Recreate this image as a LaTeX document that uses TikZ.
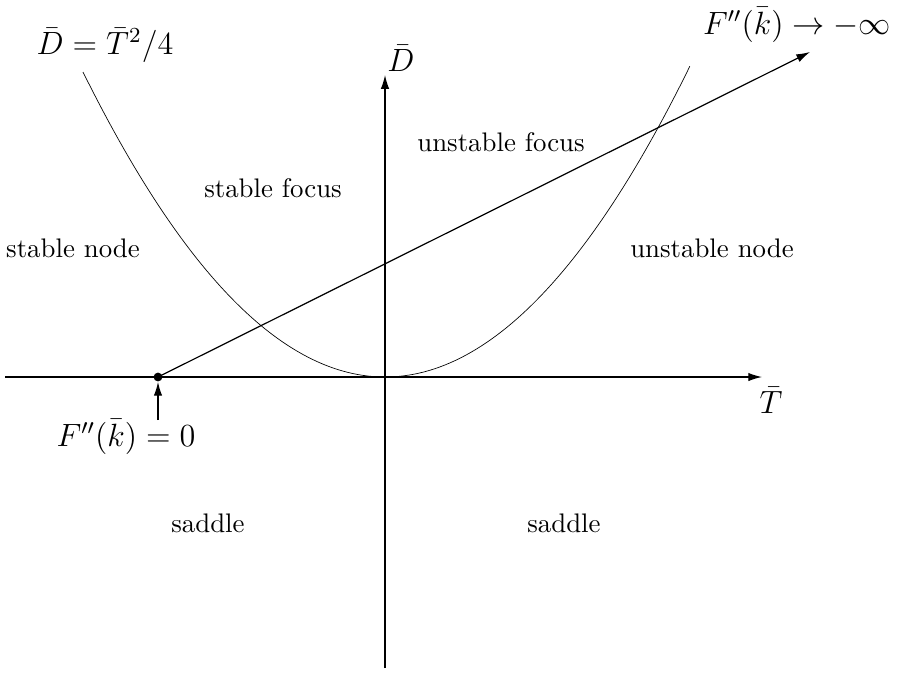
\documentclass[tikz,border=0pt]{standalone}
\usepackage{amsmath, amssymb}
\usetikzlibrary{arrows.meta, positioning, calc}

\begin{document}
\begin{tikzpicture}[x=0.01309cm, y=-0.01309cm,
        region/.style={font=\normalsize},
        etiqueta/.style={font=\large},
        eje/.style={-{Latex[length=1.8mm, width=1.1mm]}, line width=0.45pt}]
        \useasboundingbox (0,0) rectangle (897,678);
        % ejes
        \coordinate (izq) at (5,377);
        \coordinate (der) at (762,377);
        \coordinate (abajo) at (385,668);
        \coordinate (arriba) at (385,75);
        \draw[eje] (izq) -- (der);
        \draw[eje] (abajo) -- (arriba);
        \node[etiqueta] (ejeT) at (771,400) {$\bar{T}$};
        \node[etiqueta] (ejeD) at (401,58) {$\bar{D}$};
        % parabola D = T^2/4
        \draw[line width=0.25pt] plot[domain=-3.02:3.05, samples=120] ({385+100*\x}, {377-33.44*\x*\x});
        \node[etiqueta] (parab) at (105,45) {$\bar{D}=\bar{T}^2/4$};
        % trayectoria
        \node[circle, fill, inner sep=0pt, minimum size=1.15mm] (cero) at (158,377) {};
        \coordinate (fin) at (810,52);
        \draw[eje] (cero.center) -- (fin);
        \node[etiqueta] (infty) at (797,25) {$F''(\bar{k})\rightarrow-\infty$};
        \node[etiqueta] (nulo) at (126,437) {$F''(\bar{k})=0$};
        \coordinate (pie) at (158,420);
        \draw[eje] (pie) -- (cero);
        % regiones
        \node[region] (sfoco) at (273,188) {stable focus};
        \node[region] (ufoco) at (501,142) {unstable focus};
        \node[region] (snodo) at (73,248) {stable node};
        \node[region] (unodo) at (712,248) {unstable node};
        \node[region] (silla1) at (208,523) {saddle};
        \node[region] (silla2) at (564,523) {saddle};
    \end{tikzpicture}
\end{document}
